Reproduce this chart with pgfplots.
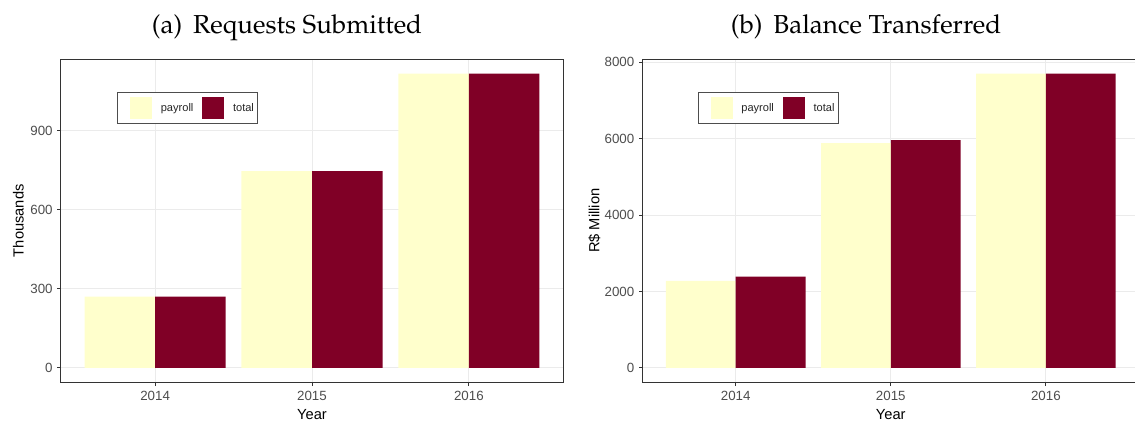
\documentclass[border=0pt]{standalone}
\usepackage{fontspec}
\usepackage[T1,TU]{fontenc}
\setmainfont{Liberation Sans}
\usepackage{pgfplots}
\pgfplotsset{compat=1.18}

\definecolor{payroll}{HTML}{FFFFCC}
\definecolor{total}{HTML}{800026}
\definecolor{grey20}{HTML}{333333}
\definecolor{grey30}{HTML}{4D4D4D}
\definecolor{grey92}{HTML}{EBEBEB}

% panel titles in Palatino (URW Palladio, Type 1)
\newcommand\titlefont{\fontencoding{T1}\fontfamily{ppl}\fontsize{19.5}{22}\selectfont}

\pgfplotsset{
  panel/.style={
    scale only axis,
    height=242.6pt,
    xmin=0.4, xmax=3.6,
    xtick={1,2,3}, xticklabels={2014,2015,2016},
    axis line style={draw=grey20, line width=0.75pt},
    tick pos=left, tick align=outside,
    major tick length=2.75pt,
    tick style={draw=grey20, line width=0.75pt},
    grid=major,
    major grid style={draw=grey92, line width=0.75pt},
    ticklabel style={font=\fontsize{10}{11}\selectfont, text=grey30},
    /pgf/number format/assume math mode=true,
    /pgf/number format/set thousands separator={},
    label style={font=\fontsize{11}{12}\selectfont, text=black},
    xlabel={Year},
    legend columns=2,
    legend style={
      anchor=north west,
      draw=grey30, line width=0.6pt, fill=white,
      inner xsep=2.7pt, inner ysep=3.2pt,
      nodes={inner sep=0pt, font=\fontsize{8.3}{9}\selectfont, text=black!85},
      /tikz/every odd column/.style={column sep=6.6pt},
      /tikz/every even column/.style={column sep=0pt},
    },
  },
  sq legend/.style={
    legend image code/.code={
      \path (-6.6pt,0pt);
      \fill[##1,draw=none] (0pt,-8.25pt) rectangle (16.5pt,8.25pt);
    }
  },
  payroll bar/.style={ybar, bar width=0.45, bar shift=-0.225,
    fill=payroll, draw=none, sq legend},
  total bar/.style={ybar, bar width=0.45, bar shift=0.225,
    fill=total, draw=none, sq legend},
}

\begin{document}
\begin{tikzpicture}
\useasboundingbox (0,0) rectangle (851.25pt,315.75pt);
\clip (0,0) rectangle (851.25pt,315.75pt);

% (a) requests submitted, in thousands
\begin{axis}[panel,
  at={(45.75pt,28.875pt)}, anchor=south west,
  width=376.5pt,
  ymin=-55.9, ymax=1172.9,
  ytick={0,300,600,900},
  ylabel={Thousands},
  ylabel style={at={(axis description cs:-0.085,0.5)}, anchor=center},
  legend style={at={(axis description cs:0.112,0.897)}},
]
\addplot[payroll bar] coordinates {(1,270) (2,747) (3,1117)};
\addlegendentry{payroll}
\addplot[total bar] coordinates {(1,270) (2,747) (3,1117)};
\addlegendentry{total}
\end{axis}

% (b) balance transferred, in R$ million
\begin{axis}[panel,
  at={(482.0pt,28.875pt)}, anchor=south west,
  width=372.2pt,
  ymin=-385, ymax=8085,
  ytick={0,2000,4000,6000,8000},
  ylabel={R\$ Million},
  ylabel style={at={(axis description cs:-0.097,0.5)}, anchor=center},
  legend style={at={(axis description cs:0.111,0.897)}},
]
\addplot[payroll bar] coordinates {(1,2274) (2,5882) (3,7700)};
\addlegendentry{payroll}
\addplot[total bar] coordinates {(1,2387) (2,5961) (3,7700)};
\addlegendentry{total}
\end{axis}

\node[anchor=base, font=\titlefont] at (215.25pt,290.8pt)
  {(a)\hspace{0.42em}Requests Submitted};
\node[anchor=base, font=\titlefont] at (649.5pt,290.8pt)
  {(b)\hspace{0.42em}Balance Transferred};
\end{tikzpicture}
\end{document}
